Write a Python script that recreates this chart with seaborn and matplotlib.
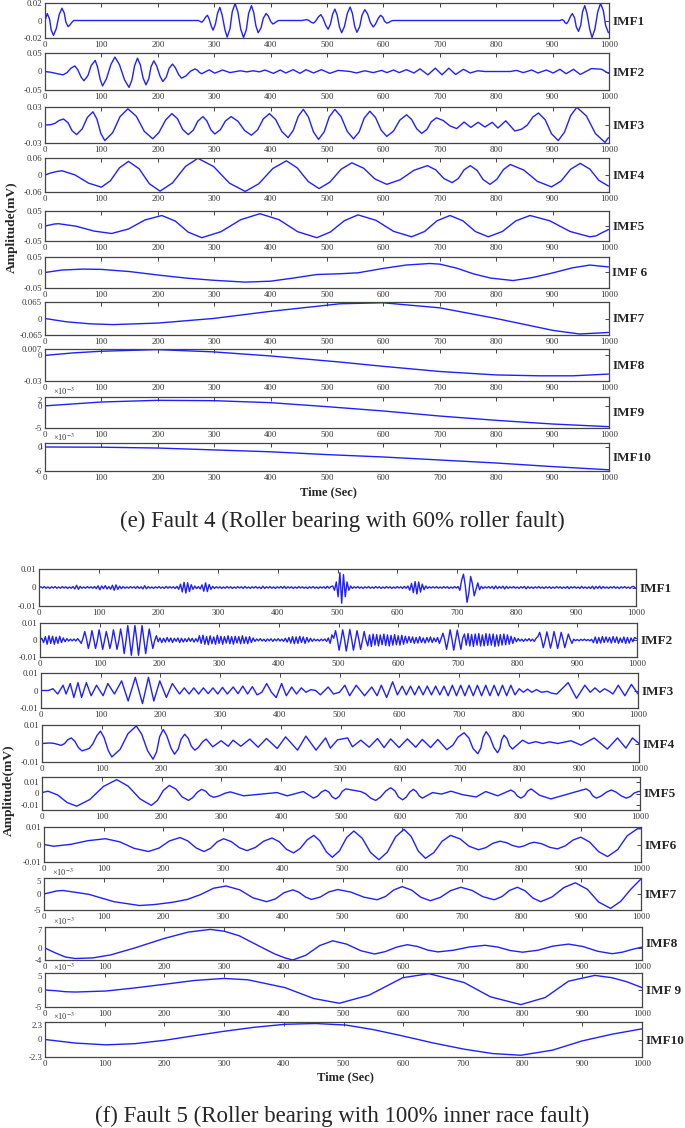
import numpy as np
import matplotlib
matplotlib.use("Agg")
import matplotlib.pyplot as plt
import seaborn as sns

# ---------------- data ----------------
time_ticks = list(range(0, 1001, 100))

# panel (e): (time, amplitude mV); IMF9/IMF10 in units of 1e-3
e_imf1 = [(0, 0), (4, 0.008), (8, 0.0018), (11, -0.0108), (15, -0.017), (20, -0.0093), (25, 0.0063), (30, 0.014),
          (34, 0.0088), (37, -0.0018), (41, -0.007), (44, -0.0053), (48, -0.0018), (51, 0), (272, 0),
          (278, -0.002), (281, 0), (285, 0.004), (288, 0.006), (291, 0.0018), (295, -0.0068), (298, -0.011),
          (302, -0.0045), (306, 0.0085), (310, 0.015), (314, 0.0065), (319, -0.0105), (323, -0.019),
          (328, -0.0094), (332, 0.0099), (337, 0.0195), (342, 0.0098), (347, -0.0098), (352, -0.0195),
          (357, -0.0104), (361, 0.0079), (366, 0.017), (370, 0.0093), (374, -0.0063), (378, -0.014),
          (383, -0.0085), (387, 0.0025), (392, 0.008), (396, 0.005), (400, -0.001), (404, -0.004), (407, -0.003),
          (411, -0.001), (414, 0), (455, 0), (464, 0.001), (468, 0), (472, -0.002), (476, -0.003),
          (480, -0.0006), (485, 0.0043), (489, 0.0067), (493, 0.0025), (498, -0.0058), (502, -0.01),
          (506, -0.0043), (510, 0.0073), (514, 0.013), (518, 0.0063), (522, -0.0073), (526, -0.014),
          (531, -0.0067), (536, 0.0081), (541, 0.0154), (545, 0.0082), (549, -0.0063), (553, -0.0135),
          (558, -0.007), (562, 0.0059), (567, 0.0124), (572, 0.0075), (577, -0.0025), (582, -0.0074),
          (586, -0.0041), (591, 0.0027), (595, 0.006), (599, 0.0038), (602, -0.0008), (606, -0.003),
          (610, -0.0022), (613, -0.0008), (617, 0), (913, 0), (917, 0.001), (920, -0.0002), (922, -0.0025),
          (925, -0.0036), (928, -0.0007), (932, 0.0051), (935, 0.008), (939, 0.0029), (942, -0.0073),
          (946, -0.0124), (950, -0.0051), (953, 0.0097), (957, 0.017), (961, 0.0079), (966, -0.0104),
          (970, -0.0195), (975, -0.0098), (980, 0.0098), (985, 0.0195), (990, 0.0111), (994, -0.0056),
          (999, -0.014)]
e_imf2 = [(0, 0), (10, -0.002), (22, -0.006), (32, -0.009), (39, -0.003), (46, 0.009), (53, 0.015), (58, 0.005),
          (64, -0.015), (69, -0.025), (76, -0.0113), (82, 0.0163), (89, 0.03), (93, 0.0128), (98, -0.0218),
          (102, -0.039), (109, -0.0195), (117, 0.0195), (124, 0.039), (132, 0.0185), (141, -0.0225),
          (149, -0.043), (154, -0.0233), (159, 0.0163), (164, 0.036), (169, 0.018), (174, -0.018),
          (179, -0.036), (184, -0.0198), (188, 0.0128), (193, 0.029), (198, 0.015), (204, -0.013),
          (209, -0.027), (215, -0.0153), (220, 0.0083), (226, 0.02), (231, 0.0105), (237, -0.0085),
          (242, -0.018), (250, -0.0118), (258, 0.0008), (266, 0.007), (270, 0.0038), (274, -0.0028),
          (278, -0.006), (291, 0.0045), (301, -0.0045), (315, 0.004), (328, -0.003), (346, 0.002),
          (358, -0.001), (369, 0.002), (380, -0.001), (390, 0.004), (405, -0.005), (417, 0.004), (427, -0.004),
          (440, 0.005), (452, -0.005), (463, 0.005), (476, -0.004), (490, 0.005), (505, -0.005), (520, 0.003),
          (541, 0), (552, -0.004), (567, 0.002), (582, -0.003), (597, 0.003), (606, -0.003), (618, 0.004),
          (628, -0.003), (641, 0.005), (654, -0.004), (665, 0.007), (679, -0.009), (692, 0.009), (704, -0.009),
          (716, 0.009), (728, -0.008), (742, 0.006), (754, -0.004), (767, 0.002), (780, 0), (825, 0),
          (836, 0.003), (848, -0.003), (863, 0.004), (874, -0.004), (889, 0.004), (901, -0.004), (913, 0.006),
          (924, -0.006), (937, 0.006), (949, -0.008), (969, 0.008), (987, 0.006), (999, -0.005)]
e_imf3 = [(0, 0), (10, 0.0005), (18, 0.0029), (25, 0.0076), (33, 0.01), (41, 0.0035), (48, -0.0095), (56, -0.016),
          (66, -0.0065), (75, 0.0125), (85, 0.022), (92, 0.01), (99, -0.014), (106, -0.026), (120, -0.0128),
          (133, 0.0138), (147, 0.027), (162, 0.0145), (176, -0.0105), (191, -0.023), (202, -0.0125),
          (214, 0.0085), (225, 0.019), (235, 0.0103), (244, -0.0073), (254, -0.016), (263, -0.0085),
          (271, 0.0065), (280, 0.014), (287, 0.0068), (294, -0.0078), (301, -0.015), (311, -0.0078),
          (320, 0.0068), (330, 0.014), (342, 0.0063), (354, -0.0093), (366, -0.017), (377, -0.008), (387, 0.01),
          (398, 0.019), (409, 0.009), (420, -0.011), (431, -0.021), (440, -0.0093), (449, 0.0143), (458, 0.026),
          (467, 0.0135), (476, -0.0115), (485, -0.024), (495, -0.0115), (504, 0.0135), (514, 0.026),
          (525, 0.0138), (536, -0.0108), (547, -0.023), (557, -0.0115), (566, 0.0115), (576, 0.023),
          (586, 0.0125), (596, -0.0085), (606, -0.019), (618, -0.01), (629, 0.008), (641, 0.017), (650, 0.0093),
          (659, -0.0063), (668, -0.014), (677, -0.0075), (685, 0.0055), (694, 0.012), (706, 0.0075),
          (718, -0.0015), (730, -0.006), (743, 0.005), (755, -0.004), (768, 0.0045), (780, -0.0033),
          (793, 0.0045), (803, -0.005), (817, 0.007), (833, -0.01), (845, -0.007), (855, -0.0003), (865, 0.0133),
          (875, 0.02), (887, 0.0085), (898, -0.0145), (910, -0.026), (921, -0.0121), (932, 0.0156),
          (943, 0.0295), (960, 0.0149), (976, -0.0144), (993, -0.029), (999, -0.021)]
e_imf4 = [(0, 0), (10, 0.007), (20, 0.012), (30, 0.015), (53, 0.0005), (77, -0.0285), (100, -0.043),
          (116, -0.0203), (132, 0.0253), (148, 0.048), (167, 0.0218), (185, -0.0308), (204, -0.057),
          (226, -0.028), (249, 0.03), (271, 0.059), (299, 0.0298), (327, -0.0288), (355, -0.058), (379, -0.031),
          (404, 0.023), (428, 0.05), (447, 0.0255), (467, -0.0235), (486, -0.048), (505, -0.0253), (525, 0.0203),
          (544, 0.043), (565, 0.024), (585, -0.014), (606, -0.033), (630, -0.0165), (654, 0.0165), (678, 0.033),
          (693, 0.018), (707, -0.012), (722, -0.027), (733, -0.012), (743, 0.018), (754, 0.033), (766, 0.0165),
          (777, -0.0165), (789, -0.033), (801, -0.0155), (813, 0.0195), (825, 0.037), (849, 0.0173),
          (873, -0.0223), (898, -0.042), (915, -0.0213), (932, 0.0203), (949, 0.041), (966, 0.021),
          (982, -0.019), (999, -0.039)]
e_imf5 = [(0, 0), (8, 0.003), (16, 0.0065), (24, 0.0076), (55, -0.0006), (87, -0.0169), (118, -0.025),
          (148, -0.01), (177, 0.02), (207, 0.035), (231, 0.0165), (254, -0.0205), (278, -0.039), (312, -0.019),
          (347, 0.021), (381, 0.041), (415, 0.021), (448, -0.019), (482, -0.039), (506, -0.02), (531, 0.018),
          (555, 0.037), (587, 0.0188), (618, -0.0178), (650, -0.036), (673, -0.0183), (695, 0.0173),
          (718, 0.035), (741, 0.0173), (763, -0.0183), (786, -0.036), (811, -0.0183), (835, 0.0173),
          (860, 0.035), (895, 0.0173), (931, -0.0183), (966, -0.036), (977, -0.033), (988, -0.022),
          (999, -0.012)]
e_imf6 = [(0, 0), (30, 0.008), (68, 0.011), (100, 0.01), (150, 0.003), (203, -0.0087), (250, -0.018),
          (298, -0.025), (355, -0.031), (400, -0.028), (440, -0.018), (482, -0.0065), (523, -0.004),
          (555, -0.001), (599, 0.013), (640, 0.024), (682, 0.029), (700, 0.027), (730, 0.014), (759, -0.004),
          (790, -0.018), (830, -0.026), (865, -0.016), (901, -0.001), (935, 0.015), (966, 0.024), (999, 0.018)]
e_imf7 = [(0, 0), (38, -0.013), (80, -0.021), (121, -0.024), (200, -0.018), (298, 0), (399, 0.028),
          (523, 0.058), (599, 0.062), (700, 0.042), (800, 0), (901, -0.047), (948, -0.061), (999, -0.055)]
e_imf8 = [(0, -0.0004), (50, 0.0025), (100, 0.0044), (198, 0.0063), (298, 0.0037), (401, -0.0011),
          (523, -0.0081), (599, -0.013), (700, -0.019), (800, -0.023), (877, -0.024), (936, -0.024),
          (999, -0.022)]
e_imf9 = [(0, 0), (100, 0.87), (200, 1.25), (300, 1.17), (400, 0.72), (500, -0.18), (600, -1.16), (700, -2.3),
          (800, -3.27), (900, -4.1), (1000, -4.7)]
e_imf10 = [(0, 0), (100, -0.05), (200, -0.26), (300, -0.73), (400, -1.2), (500, -1.9), (600, -2.5),
           (700, -3.25), (800, -4.0), (900, -4.9), (1000, -5.7)]

# panel (f): IMF1/IMF2 sampled every 3 s, units of 1e-4 mV
f_grid_t = np.arange(0, 1000, 3)
f_imf1 = [0, 4, -3, 5, -4, 3, -5, 4, -3, 5, -4, 3, -4, 5, -3, 4, -5, 3, -4, 5,
          -8, 12, -10, 6, -4, 3, -4, 5, -3, 4, -4, 5, -6, 9, -12, 8, -6, 10, -8, 5,
          -9, 12, -15, 14, -10, 7, -6, 5, -4, 3, -4, 5, -3, 4, -5, 6, -5, 4, -8, 10,
          -7, 5, -4, 3, -5, 4, -3, 5, -4, 3, -5, 6, -4, 5, -3, 4, -5, 6, -10, 18,
          -24, 28, -30, 26, -22, 15, -10, 8, -6, 5, -8, 14, -20, 25, -22, 16, -10, 6, -5, 4,
          -3, 4, -5, 3, -4, 5, -3, 4, -5, 3, -4, 5, -3, 4, -5, 6, -4, 3, -5, 4,
          -3, 5, -4, 3, -6, 7, -5, 4, -3, 5, -4, 3, -5, 4, -3, 5, -4, 6, -5, 4,
          -3, 4, -5, 3, -4, 5, -3, 4, -4, 3, -5, 4, -3, 5, -4, 3, -5, 4, -3, 4,
          -5, 6, -4, 5, 8, -15, 30, -50, 80, -85, 70, -50, 30, -15, 8, -5, 4, -3, 5, -4,
          3, -5, 4, -3, 5, -4, 3, -4, 5, -3, 4, -5, 3, -4, 5, -3, 4, -5, 3, -4,
          5, -3, 4, -5, 6, -4, 8, -15, 22, -28, 32, -35, 30, -25, 18, -12, 8, -5, 4, -3,
          4, -3, 5, -4, 3, -4, 5, -3, 4, -5, 3, -4, 5, -3, 5, -15, 40, 72, 10, -80,
          -30, 60, 20, -45, -10, 25, -12, 6, -5, 4, -3, 5, -4, 6, -7, 8, -6, 5, -4, 7,
          -8, 6, -5, 4, -3, 5, -4, 3, -5, 4, -3, 6, -7, 5, -4, 3, -5, 4, -3, 5,
          -4, 3, -5, 4, -3, 4, -5, 3, -4, 5, -3, 4, -5, 3, -4, 5, -6, 4, -3, 5,
          -4, 3, -5, 6, -4, 3, -5, 4, -6, 7, -8, 6, -5, 7, -6, 5, -4, 3, -5, 4,
          -3, 5, -4, 3, -5, 4, -3, 5, -4, 3, -5, 4, 6, -3]
f_imf2 = [0, 10, -15, 20, -25, 25, -20, 22, -25, 18, -20, 22, -15, 12, -10, 8, -6, 5, -5, 6,
          -6, 8, -4,
          -20, 10, 50, 5, -50, -5, 55, 5, -50, -5, 60, 5, -55, -5, 50, 5, -50, -5, 60, 5, -55, -5,
          65, 5, -80, -5, 85, 5, -90, -5, 85, 5, -90, -5, 85, 5, -80, -5, 65, 5, -50, -5, 25, -10,
          12, -15, 10, -12, 15, -10, 12, -15, 10, -8, 12, -15, 10, -12, 8, -10, 12, -8, 10, -12, 8, -10,
          25, -20, 28, -25, 20, -28, 25, -22, 18, -25, 28, -20, 22, -25, 20, -18, 25, -22, 20, -25,
          22, -18, 20, -22, 25, -20, 18, -22, 20, -15, 12,
          -8, 6, -5, 8, -6, 5, -8, 6, -5, 7, -8, 6, -5, 8, -6, 5, -8, 10, -12, 15,
          -18, 20, -22, 18, -20, 22, -15, 18, -20, 15, -12, 10, -8, 6,
          -5, 4, -6, 5, -4, 6, -8, 12, -20, 30,
          10, 55, 5, -60, -5, 60, 5, -65, -5, 62, 5, -60, -5, 55, 5, -55, -5, 50, 0,
          -35, 30, -38, 35, -30, 32, -35, 30, -28, 35, -32, 30, -35, 28, -30, 32, -28, 25, -30, 28, -25, 22,
          -18, 20, -15, 18, -20, 15, -18, 20, -15, 12, -18, 15, -12, 18, -15, 12, -10, 15, -20,
          10, 40, 0, -55, 0, 60, 5, -60, 0, 58, 0, -55, 10,
          35, -30, 38, -35, 32, -38, 35, -30, 38, -35, 30, -35, 38, -32, 35, -30, 35, -38, 30, -35,
          32, -30, 35, -28, 30, -25, 22, -20, 15, -10,
          8, -6, 5, -8, 6, -5, 8, -6, 5, -8, 10,
          20, 45, 5, -45, -5, 48, 5, -48, -5, 50, 5, -50, -5, 45, 5, -45, -5, 35, 5, -20,
          5, -4, 3, -5, 4, -3, 5, -4, 3, -5, 4,
          -15, 18, -20, 15, -18, 20, -15, 18, -12, 15, -18, 20, -15, 18, -20, 12, -15, 18, -20, 15,
          -18, 12, -10, 15, 8]
# IMF3-IMF6: (time, amplitude in 1e-4 mV)
f_imf3 = [(0, 0), (12, 0), (20, 10), (28, -20), (37, 30), (42, -20), (49, 40), (55, -40), (62, 45), (68, -40),
          (76, 45), (84, -30), (93, 30), (104, -30), (112, 40), (123, -20), (135, 55), (146, -60), (158, 75),
          (170, -75), (180, 75), (189, -60), (199, 55), (210, -40), (220, 40), (232, -20), (240, 15), (248, -20),
          (256, 15), (264, -20), (272, 15), (280, -18), (288, 15), (296, -20), (304, 18), (312, -20), (322, 20),
          (330, -18), (338, 25), (346, -20), (354, 22), (362, -25), (370, -10), (378, 40), (386, -10),
          (394, -40), (403, 40), (411, -30), (420, 20), (428, -20), (436, 15), (444, -10), (452, 5), (460, 0),
          (468, -25), (481, 20), (490, -20), (500, -10), (509, 30), (517, -30), (528, 30), (542, -30), (554, 20),
          (563, -30), (570, 30), (579, -40), (589, 50), (597, -25), (605, 25), (612, -25), (619, 25), (626, -25),
          (633, 25), (640, -25), (647, 25), (654, -25), (661, 25), (668, -25), (675, 25), (682, -30), (689, 30),
          (696, -30), (703, 30), (710, -30), (717, 30), (724, -30), (731, 30), (738, -30), (745, 30), (752, -30),
          (759, 30), (766, -30), (773, 30), (780, -30), (787, 30), (794, -25), (801, 10), (808, -10), (815, 8),
          (822, -10), (830, 5), (838, -10), (848, -5), (855, -15), (864, -20), (883, 45), (897, -45), (911, 30),
          (920, -10), (928, 15), (936, -10), (944, 10), (952, -5), (958, -20), (967, 30), (978, -30), (989, 35),
          (1000, -20)]
f_imf4 = [(0, 0), (13, 3), (21, 0), (32, -10), (38, 0), (43, 20), (49, 30), (55, 12), (61, -22), (67, -40),
          (79, -27), (85, -3), (92, 43), (98, 67), (104, 32), (111, -38), (117, -73), (131, -31), (144, 53),
          (158, 95), (167, 50), (177, -40), (186, -85), (192, -45), (197, 36), (203, 76), (209, 42), (216, -24),
          (222, -58), (228, -31), (233, 23), (239, 50), (245, 28), (250, -14), (256, -36), (262, -21), (269, 9),
          (275, 24), (286, -18), (300, 15), (312, -15), (320, 18), (333, -15), (348, 24), (362, -20), (376, 27),
          (394, -27), (408, 36), (428, -36), (442, 40), (459, -36), (475, 30), (483, -25), (495, 20), (512, 30),
          (520, -18), (534, 18), (548, -20), (562, 27), (573, -22), (584, 25), (598, -22), (612, 25), (626, -20),
          (637, 22), (651, -22), (663, 22), (678, -33), (688, -10), (697, 35), (707, 58), (715, 30), (722, -27),
          (730, -55), (735, -25), (739, 34), (744, 64), (750, 36), (757, -22), (763, -50), (767, -26), (770, 21),
          (774, 45), (779, 26), (783, -11), (788, -30), (805, 18), (815, 0), (827, 10), (839, 0), (850, 9),
          (864, 0), (886, 15), (903, -9), (925, 30), (947, -30), (964, 30), (978, -25), (989, 30), (1000, 0)]
f_imf5 = [(0, 8), (10, 20), (26, -12), (42, -78), (58, -110), (80, -52), (103, 62), (125, 120), (144, 64),
          (164, -47), (183, -103), (193, -60), (203, 27), (213, 70), (224, 38), (234, -28), (245, -60),
          (252, -36), (260, 12), (267, 36), (274, 19), (280, -16), (287, -33), (296, -21), (306, 2), (315, 14),
          (337, -20), (393, 8), (410, -20), (437, 17), (454, -40), (461, -22), (467, 12), (474, 30), (480, 11),
          (485, -28), (491, -47), (497, -25), (502, 18), (508, 40), (533, 17), (541, -2), (550, -41), (558, -60),
          (566, -32), (575, 22), (583, 50), (590, 24), (596, -29), (603, -55), (609, -32), (615, 13), (621, 36),
          (626, 17), (631, -21), (636, -40), (653, 8), (668, -5), (684, 20), (703, -10), (726, -30), (742, 17),
          (762, -20), (784, 30), (790, 12), (795, -22), (801, -40), (807, -20), (812, 20), (818, 40), (832, -15),
          (851, -47), (888, 8), (910, 40), (916, 20), (921, -20), (927, -40), (935, -22), (944, 12), (952, 30),
          (960, 12), (969, -22), (977, -40), (984, -26), (990, 3), (997, 17), (1000, 18)]
f_imf6 = [(0, 0), (16, -10), (45, 1), (74, 22), (103, 33), (127, 15), (151, -22), (175, -40), (193, -20),
          (210, 20), (228, 40), (241, 20), (255, -20), (268, -40), (279, -22), (290, 15), (301, 33), (314, 16),
          (327, -18), (340, -35), (354, -17), (368, 19), (382, 37), (394, 16), (406, -27), (418, -48), (429, -23),
          (441, 27), (452, 52), (462, 21), (473, -42), (483, -73), (495, -36), (507, 40), (519, 77), (533, 36),
          (547, -46), (561, -87), (575, -44), (589, 44), (603, 87), (615, 46), (627, -38), (639, -79), (653, -46),
          (667, 19), (681, 52), (697, 32), (712, -10), (728, -30), (740, -18), (752, 7), (764, 19), (775, 10),
          (785, -6), (796, -15), (804, -8), (813, 6), (821, 13), (834, 4), (847, -16), (860, -25), (873, -8),
          (886, 25), (899, 42), (914, 14), (929, -41), (944, -69), (961, -29), (977, 50), (994, 90), (1000, 90)]
# IMF7-IMF10: (time, amplitude in 1e-3 mV)
f_imf7 = [(0, 0), (11, 0.5), (21, 0.95), (32, 1.1), (75, -0.1), (117, -2.4), (160, -3.6), (185, -3.3),
          (215, -2.6), (240, -1.7), (262, -0.2), (284, 1.8), (305, 2.5), (328, 1.3), (350, -1.2), (373, -2.4),
          (388, -1.5), (402, 0.4), (417, 1.3), (427, 0.55), (438, -0.95), (448, -1.7), (463, -0.93),
          (477, 0.63), (492, 1.4), (514, 0.6), (536, -1.0), (558, -1.8), (572, -0.78), (586, 1.28), (600, 2.3),
          (616, 1.2), (631, -1.0), (647, -2.1), (664, -1.05), (681, 1.05), (698, 2.1), (717, 1.13),
          (735, -0.83), (754, -1.8), (767, -0.83), (780, 1.13), (793, 2.1), (806, 0.98), (819, -1.28),
          (832, -2.4), (851, -0.93), (871, 2.03), (890, 3.5), (910, 1.5), (929, -2.5), (949, -4.5), (966, -2.3),
          (983, 1.5), (1000, 4.7)]
f_imf8 = [(0, 0), (17, -1.6), (34, -3.0), (51, -3.5), (80, -3.3), (110, -2.3), (150, 0), (200, 3.2), (240, 5.3),
          (277, 6.2), (300, 5.6), (325, 4.1), (365, 0), (385, -2.0), (402, -3.3), (415, -4.0), (437, -2.4),
          (460, 0.8), (482, 2.4), (505, 1.3), (529, -0.9), (552, -2.0), (570, -1.2), (589, 0.3), (607, 1.1),
          (624, 0.5), (641, -0.7), (658, -1.3), (684, -0.75), (711, 0.35), (737, 0.9), (758, 0.33), (779, -0.83),
          (800, -1.4), (826, -0.73), (851, 0.63), (877, 1.3), (901, 0.5), (926, -1.1), (950, -1.9), (967, -1.4),
          (983, -0.5), (1000, 0.3)]
f_imf9 = [(0, 0), (17, -0.2), (34, -0.5), (51, -0.6), (102, -0.3), (150, 0.6), (201, 1.7), (250, 2.8),
          (300, 3.4), (340, 3.0), (402, 0.7), (450, -2.5), (493, -3.9), (543, -1.5), (599, 3.6), (643, 4.8),
          (702, 2.2), (746, -2.0), (797, -4.3), (838, -2.2), (877, 2.6), (921, 4.3), (950, 3.6), (975, 2.4),
          (1000, 0.7)]
f_imf10 = [(0, 0), (51, -0.47), (102, -0.7), (150, -0.55), (201, -0.1), (250, 0.5), (300, 1.08), (350, 1.6),
           (402, 2.0), (453, 2.1), (504, 1.9), (550, 1.3), (599, 0.47), (650, -0.45), (702, -1.27), (750, -1.85),
           (797, -2.07), (850, -1.4), (899, -0.2), (950, 0.7), (1000, 1.4)]

e_names = ["IMF1", "IMF2", "IMF3", "IMF4", "IMF5", "IMF 6", "IMF7", "IMF8", "IMF9", "IMF10"]
f_names = ["IMF1", "IMF2", "IMF3", "IMF4", "IMF5", "IMF6", "IMF7", "IMF8", "IMF 9", "IMF10"]

e_yticks = [[-0.02, 0, 0.02], [-0.05, 0, 0.05], [-0.03, 0, 0.03], [-0.06, 0, 0.06], [-0.05, 0, 0.05],
            [-0.05, 0, 0.05], [-0.065, 0, 0.065], [-0.03, 0, 0.007], [-5, 0, 2], [-6, 0, 1]]
e_ylabels = [["-0.02", "0", "0.02"], ["-0.05", "0", "0.05"], ["-0.03", "0", "0.03"], ["-0.06", "0", "0.06"],
             ["-0.05", "0", "0.05"], ["-0.05", "0", "0.05"], ["-0.065", "0", "0.065"], ["-0.03", "0", "0.007"],
             ["-5", "0", "2"], ["-6", "0", "1"]]
f_yticks = [[-0.01, 0, 0.01]] * 6 + [[-5, 0, 5], [-4, 0, 7], [-5, 0, 5], [-2.3, 0, 2.3]]
f_ylabels = [["-0.01", "0", "0.01"]] * 6 + [["-5", "0", "5"], ["-4", "0", "7"], ["-5", "0", "5"],
                                             ["-2.3", "0", "2.3"]]
f_ylims = [(-0.01, 0.01)] * 4 + [(-0.0143, 0.0143), (-0.01, 0.01), (-5, 5), (-4, 7), (-5, 5), (-2.3, 2.3)]
e_ylims = [(t[0], t[-1]) for t in e_yticks]
e_milli = [False] * 8 + [True] * 2
f_milli = [False] * 6 + [True] * 4

caption_e = "(e) Fault 4 (Roller bearing with 60% roller fault)"
caption_f = "(f) Fault 5 (Roller bearing with 100% inner race fault)"

# ---------------- layout (pixels) ----------------
W, H = 685, 1128
e_rows = [(3, 38), (53, 90), (107, 143), (158, 192), (211, 241), (257, 288), (302, 335), (349, 381),
          (397, 428), (443, 471)]
e_x = [(45, 609)] * 10
f_rows = [(569, 606), (623, 657), (673, 708), (725, 762), (777, 810), (827, 862), (878, 910), (927, 960),
          (973, 1007), (1022, 1057)]
f_x = [(39, 636), (40, 637), (41, 638), (42, 639), (42, 640), (44, 641), (44, 641), (45, 642), (45, 642),
       (45, 642)]

LINE = "#2020ff"
FRAME = "#444444"

sns.set_style("white")
plt.rcParams["font.family"] = ["Liberation Serif", "DejaVu Serif"]
plt.rcParams["mathtext.fontset"] = "stix"


def split(points, scale=1.0):
    t, v = zip(*points)
    return np.array(t, dtype=float), np.array(v, dtype=float) * scale


e_curves = [split(p) for p in [e_imf1, e_imf2, e_imf3, e_imf4, e_imf5, e_imf6, e_imf7, e_imf8, e_imf9, e_imf10]]
f_curves = [(f_grid_t, np.array(f_imf1) * 1e-4), (f_grid_t, np.array(f_imf2) * 1e-4)]
f_curves += [split(p, 1e-4) for p in [f_imf3, f_imf4, f_imf5, f_imf6]]
f_curves += [split(p) for p in [f_imf7, f_imf8, f_imf9, f_imf10]]

fig = plt.figure(figsize=(W / 100, H / 100), dpi=100)


def draw_panel(rows, xs, curves, names, ylims, yticks, ylabels, milli):
    for (top, bot), (x0, x1), (t, v), name, ylim, yt, yl, m in zip(
            rows, xs, curves, names, ylims, yticks, ylabels, milli):
        ax = fig.add_axes([x0 / W, 1 - bot / H, (x1 - x0) / W, (bot - top) / H])
        sns.lineplot(x=t, y=v, ax=ax, color=LINE, linewidth=1.0, estimator=None, sort=False)
        ax.set_xlim(0, 1000)
        ax.set_ylim(*ylim)
        ax.set_xticks(time_ticks)
        ax.set_xticklabels([str(k) for k in time_ticks])
        ax.set_yticks(yt)
        ax.set_yticklabels(yl)
        ax.set_xlabel("")
        ax.set_ylabel("")
        ax.tick_params(direction="in", top=True, right=True, length=3, width=0.7, labelsize=6.3, pad=2,
                       color=FRAME, labelcolor="#333333")
        for s in ax.spines.values():
            s.set_color(FRAME)
            s.set_linewidth(0.9)
        ax.text(1.006, 0.47, name, transform=ax.transAxes, ha="left", va="center", fontsize=9.5,
                fontweight="bold")
        if m:
            ax.text(0.014, 1.0, "\u00d710$^{-3}$", transform=ax.transAxes, ha="left", va="bottom",
                    fontsize=6, color="#333333")
            # keep the top exponent-row label clear of the tick labels above
            ax.get_yticklabels()[-1].set_va("top")


draw_panel(e_rows, e_x, e_curves, e_names, e_ylims, e_yticks, e_ylabels, e_milli)
draw_panel(f_rows, f_x, f_curves, f_names, f_ylims, f_yticks, f_ylabels, f_milli)

fig.text(12 / W, 1 - 227 / H, "Amplitude(mV)", rotation=90, ha="center", va="center", fontsize=9.7,
         fontweight="bold")
fig.text(9 / W, 1 - 790 / H, "Amplitude(mV)", rotation=90, ha="center", va="center", fontsize=9.7,
         fontweight="bold")
fig.text(328 / W, 1 - 492 / H, "Time (Sec)", ha="center", va="center", fontsize=9, fontweight="bold")
fig.text(345 / W, 1 - 1077 / H, "Time (Sec)", ha="center", va="center", fontsize=9, fontweight="bold")
fig.text(342 / W, 1 - 521 / H, caption_e, ha="center", va="center", fontsize=16.5)
fig.text(342 / W, 1 - 1116 / H, caption_f, ha="center", va="center", fontsize=16.5)

fig.savefig("out.png", dpi=100)
